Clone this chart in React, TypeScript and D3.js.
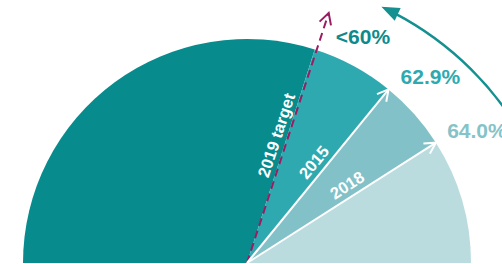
import React from "react";
import * as d3 from "d3";

// boundary angles in degrees above the horizontal (0 = right, 180 = left)
const wedgeAngles = [180, 72.4, 50.8, 32.5, 0];
const wedgeColors = ["#078b8d", "#2ea9b0", "#82c1c7", "#badcdf"];

const rayNames = ["2019 target", "2015", "2018"];
const rayAngles = [71.9, 50.8, 32.5];
const rayValues = ["<60%", "62.9%", "64.0%"];
const valueColors = ["#0e8a8c", "#2ea9b0", "#86c3c9"];

const W = 502;
const H = 264;
const cx = 247;
const cy = 263;
const R = 224;

const toRad = (deg: number) => (deg * Math.PI) / 180;
// degrees above horizontal -> d3.arc angle (0 at 12 o'clock, clockwise)
const arcAngle = d3.scaleLinear().domain([0, 180]).range([Math.PI / 2, -Math.PI / 2]);

const polar = (r: number, deg: number): [number, number] => [
  cx + r * Math.cos(toRad(deg)),
  cy - r * Math.sin(toRad(deg)),
];

const chevron = (tip: [number, number], deg: number, len = 11, half = 6) => {
  const t = toRad(deg);
  const ux = Math.cos(t), uy = -Math.sin(t);
  const nx = -uy, ny = ux;
  const bx = tip[0] - ux * len, by = tip[1] - uy * len;
  return `M${bx + nx * half},${by + ny * half}L${tip[0]},${tip[1]}L${bx - nx * half},${by - ny * half}`;
};

export default function App() {
  const arc = d3.arc<any>().innerRadius(0).outerRadius(R);
  const wedges = wedgeColors.map((c, i) => ({
    color: c,
    d: arc({ startAngle: arcAngle(wedgeAngles[i]), endAngle: arcAngle(wedgeAngles[i + 1]) }) as string,
  }));

  const rayLen = [263, R, R];
  const textDist = [87, 102, 108];
  const valueOffset = [4, 1.4, 0.5];

  // big curved arrow around the chart
  const acx = 247, acy = 295, ar = 318;
  const p = d3.path();
  p.arc(acx, acy, ar, toRad(-90 + 62), toRad(-90 + 27.5), true);
  const tipA = toRad(-90 + 25);
  const tip: [number, number] = [acx + ar * Math.cos(tipA), acy + ar * Math.sin(tipA)];
  const dir = [Math.sin(tipA), -Math.cos(tipA)];
  const nrm = [-dir[1], dir[0]];
  const base = [tip[0] - dir[0] * 18, tip[1] - dir[1] * 18];
  const head = `M${tip[0]},${tip[1]}L${base[0] + nrm[0] * 7},${base[1] + nrm[1] * 7}L${base[0] - nrm[0] * 7},${base[1] - nrm[1] * 7}Z`;

  return (
    <svg width={W} height={H} style={{ display: "block", position: "absolute", left: 0, top: 0 }}
      fontFamily="'Liberation Sans', Arial, sans-serif">
      <g transform={`translate(${cx},${cy})`}>
        {wedges.map((w, i) => (
          <path key={i} d={w.d} fill={w.color} />
        ))}
      </g>
      {rayNames.map((name, i) => {
        const deg = rayAngles[i];
        const end = polar(rayLen[i], deg);
        const isTarget = i === 0;
        const color = isTarget ? "#9a1d63" : "#ffffff";
        const t = toRad(deg);
        const nx = -Math.sin(t), ny = -Math.cos(t);
        const [tx, ty] = polar(textDist[i], deg);
        const off = 6;
        const [vx, vy] = polar(236, deg - valueOffset[i]);
        return (
          <g key={name}>
            <line x1={cx} y1={cy} x2={end[0]} y2={end[1]} stroke={color} strokeWidth={2}
              strokeDasharray={isTarget ? "8,5" : undefined} />
            <path d={chevron(end, deg)} fill="none" stroke={color} strokeWidth={2} />
            <text x={0} y={0} transform={`translate(${tx + nx * off},${ty + ny * off}) rotate(${-deg})`}
              fill="#fff" fontSize={16.5} fontWeight="bold">{name}</text>
            <text x={vx} y={vy} fill={valueColors[i]} fontSize={21} fontWeight="bold">{rayValues[i]}</text>
          </g>
        );
      })}
      <path d={p.toString()} fill="none" stroke="#13908f" strokeWidth={2.5} />
      <path d={head} fill="#13908f" />
    </svg>
  );
}
